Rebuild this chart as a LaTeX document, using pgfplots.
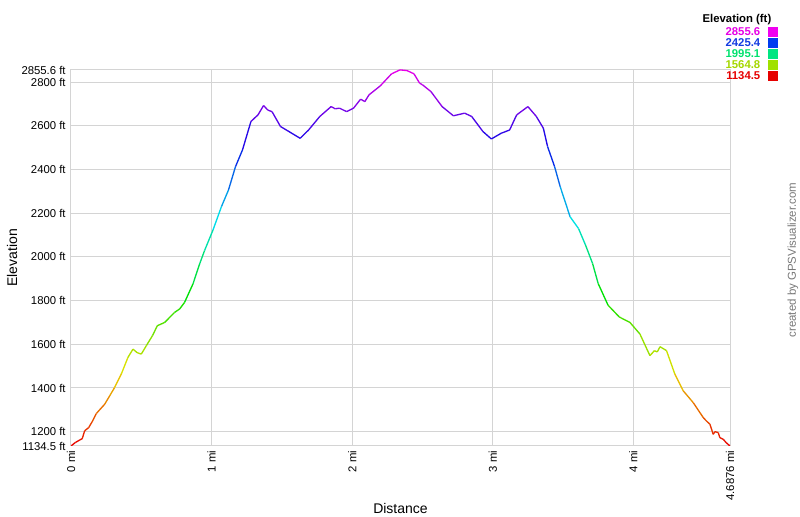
\documentclass[border=0pt]{standalone}
\usepackage{pgfplots}
\pgfplotsset{compat=1.18}
\usepackage{fontspec}
\setmainfont{Liberation Sans}
\definecolor{gridgray}{RGB}{212,212,212}
\definecolor{credit}{RGB}{120,120,120}
\definecolor{lgmag}{RGB}{230,0,230}
\definecolor{lgblue}{RGB}{20,60,225}
\definecolor{lggreen}{RGB}{0,225,110}
\definecolor{lgyg}{RGB}{165,215,0}
\definecolor{lgred}{RGB}{230,0,0}
\begin{document}
\begin{tikzpicture}
\useasboundingbox (-53.25pt,-53.25pt) rectangle (546.75pt,334.5pt);
\begin{axis}[
  at={(0pt,0pt)}, anchor=south west,
  scale only axis, width=494.25pt, height=282pt,
  xmin=0, xmax=4.6876, ymin=1134.5, ymax=2855.6,
  xtick={0,1,2,3,4,4.6876},
  xticklabels={0 mi,1 mi,2 mi,3 mi,4 mi,4.6876 mi},
  ytick={1134.5,1200,1400,1600,1800,2000,2200,2400,2600,2800,2855.6},
  yticklabels={1134.5 ft,1200 ft,1400 ft,1600 ft,1800 ft,2000 ft,2200 ft,2400 ft,2600 ft,2800 ft,2855.6 ft},
  grid=major, major grid style={draw=gridgray, line width=0.75pt},
  axis line style={draw=gridgray, line width=0.75pt},
  major tick length=0pt,
  /pgf/number format/assume math mode=true,
  tick label style={font=\fontsize{8.5}{9}\selectfont, text=black},
  xticklabel style={rotate=90, anchor=east},
  yticklabel style={anchor=east, xshift=-0.5pt},
  xlabel={Distance}, ylabel={Elevation},
  label style={font=\fontsize{10.5}{12}\selectfont},
  xlabel style={at={(axis description cs:0.5,-0.165)}, anchor=center},
  ylabel style={at={(axis description cs:-0.0895,0.5)}, anchor=center},
  colormap={elev}{rgb255=(232,0,0) rgb255=(232,225,0) rgb255=(0,225,0) rgb255=(0,225,232) rgb255=(10,10,232) rgb255=(232,0,232)},
  point meta min=1134.5, point meta max=2855.6,
]
\addplot[mesh, point meta=y, line width=1pt] coordinates {
(0,1134.5) (0.03,1150) (0.062,1162) (0.08,1168) (0.097,1204) (0.126,1219)
(0.15,1245) (0.18,1283) (0.24,1326) (0.275,1364) (0.31,1402) (0.358,1464)
(0.405,1540) (0.441,1578) (0.47,1562) (0.5,1555) (0.536,1594) (0.58,1640)
(0.614,1685) (0.666,1700) (0.737,1746) (0.773,1762) (0.808,1792)
(0.868,1877) (0.915,1968) (0.95,2029) (1.01,2123) (1.07,2230) (1.12,2306)
(1.17,2413) (1.22,2490) (1.28,2620) (1.33,2650) (1.37,2693) (1.40,2672)
(1.43,2665) (1.49,2597) (1.55,2574) (1.63,2543) (1.69,2581) (1.77,2643)
(1.85,2688) (1.88,2678) (1.91,2681) (1.96,2665) (2.01,2681) (2.06,2722)
(2.09,2711) (2.12,2742) (2.20,2783) (2.28,2838) (2.34,2856) (2.39,2853)
(2.44,2838) (2.48,2795) (2.50,2788) (2.56,2757) (2.64,2688) (2.72,2646)
(2.76,2652) (2.80,2658) (2.85,2643) (2.93,2574) (2.99,2540) (3.06,2566)
(3.12,2581) (3.17,2650) (3.25,2688) (3.31,2643) (3.36,2589) (3.39,2505)
(3.44,2413) (3.48,2321) (3.55,2184) (3.61,2130) (3.66,2054) (3.71,1970)
(3.75,1878) (3.82,1779) (3.90,1725) (3.976,1700) (4.047,1647) (4.118,1548)
(4.15,1571) (4.17,1565) (4.19,1589) (4.236,1571) (4.295,1464) (4.355,1387)
(4.426,1333) (4.497,1265) (4.52,1249) (4.545,1234) (4.568,1188) (4.58,1200)
(4.604,1196) (4.615,1173) (4.64,1165) (4.66,1150) (4.6876,1134.5)
};
\end{axis}
% colour legend
\node[anchor=east, font=\fontsize{8.5}{9}\selectfont\bfseries] at (528.75pt,319.5pt) {Elevation (ft)};
\node[anchor=east, font=\fontsize{8.5}{9}\selectfont\bfseries, text=lgmag]  at (520.5pt,310.5pt) {2855.6};
\node[anchor=east, font=\fontsize{8.5}{9}\selectfont\bfseries, text=lgblue] at (520.5pt,302.25pt) {2425.4};
\node[anchor=east, font=\fontsize{8.5}{9}\selectfont\bfseries, text=lggreen] at (520.5pt,294pt) {1995.1};
\node[anchor=east, font=\fontsize{8.5}{9}\selectfont\bfseries, text=lgyg] at (520.5pt,285.75pt) {1564.8};
\node[anchor=east, font=\fontsize{8.5}{9}\selectfont\bfseries, text=lgred] at (520.5pt,277.5pt) {1134.5};
\fill[fill={rgb,255:red,240;green,0;blue,240}] (523.1pt,307.1pt) rectangle (529.9pt,313.9pt);
\fill[fill={rgb,255:red,0;green,60;blue,240}] (523.1pt,298.85pt) rectangle (529.9pt,305.65pt);
\fill[fill={rgb,255:red,0;green,230;blue,130}] (523.1pt,290.6pt) rectangle (529.9pt,297.4pt);
\fill[fill={rgb,255:red,160;green,225;blue,0}] (523.1pt,282.35pt) rectangle (529.9pt,289.15pt);
\fill[fill={rgb,255:red,230;green,0;blue,0}] (523.1pt,274.1pt) rectangle (529.9pt,280.9pt);
% credit
\node[rotate=90, text=credit, font=\fontsize{8.6}{9}\selectfont] at (541.5pt,139.5pt) {created by GPSVisualizer.com};
\end{tikzpicture}
\end{document}
